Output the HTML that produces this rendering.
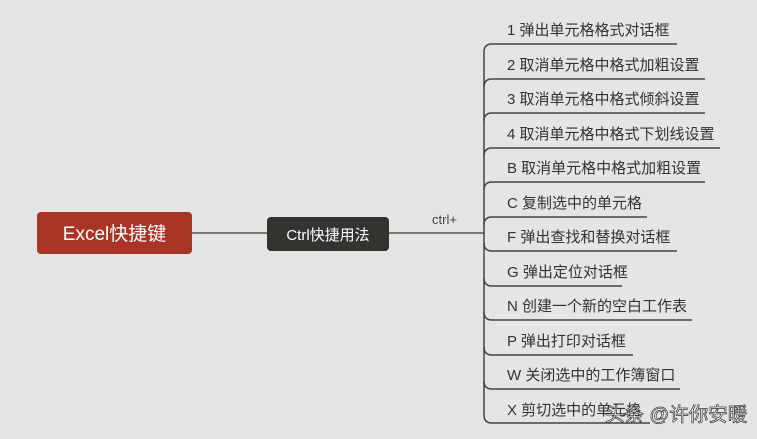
<!DOCTYPE html>
<html><head><meta charset="utf-8"><style>
html,body{margin:0;padding:0;background:#e5e5e5;}
svg{display:block;font-family:"Liberation Sans","Noto Sans CJK SC",sans-serif;}
</style></head><body>
<svg width="757" height="439" viewBox="0 0 757 439">
<rect width="757" height="439" fill="#e5e5e5"/>
<line x1="192" y1="233" x2="267" y2="233" stroke="#555" stroke-width="1.5"/>
<line x1="389" y1="233" x2="484" y2="233" stroke="#555" stroke-width="1.5"/>
<rect x="37" y="212" width="155" height="42" rx="4" fill="#a83426"/>
<text x="114.5" y="240" fill="#fff" font-size="19" text-anchor="middle">Excel快捷键</text>
<rect x="267" y="217" width="122" height="34" rx="4" fill="#33332f"/>
<text x="328" y="240" fill="#fff" font-size="15" text-anchor="middle">Ctrl快捷用法</text>
<text x="432" y="224" fill="#444" font-size="13">ctrl+</text>
<g fill="none" stroke="#444" stroke-width="1.5">
<path d="M484 52 V415"/>
<path d="M484 52 Q484 44 492 44 H677"/>
<path d="M484 87 Q484 79 492 79 H705"/>
<path d="M484 121 Q484 113 492 113 H705"/>
<path d="M484 156 Q484 148 492 148 H720"/>
<path d="M484 190 Q484 182 492 182 H705"/>
<path d="M484 225 Q484 217 492 217 H647"/>
<path d="M484 243 Q484 251 492 251 H677"/>
<path d="M484 278 Q484 286 492 286 H622"/>
<path d="M484 312 Q484 320 492 320 H692"/>
<path d="M484 347 Q484 355 492 355 H633"/>
<path d="M484 381 Q484 389 492 389 H680"/>
<path d="M484 415 Q484 423 492 423 H650"/>
</g>
<g fill="#333" font-size="15">
<text x="507" y="35">1  弹出单元格格式对话框</text>
<text x="507" y="70">2  取消单元格中格式加粗设置</text>
<text x="507" y="104">3  取消单元格中格式倾斜设置</text>
<text x="507" y="139">4  取消单元格中格式下划线设置</text>
<text x="507" y="173">B  取消单元格中格式加粗设置</text>
<text x="507" y="208">C  复制选中的单元格</text>
<text x="507" y="242">F  弹出查找和替换对话框</text>
<text x="507" y="277">G  弹出定位对话框</text>
<text x="507" y="311">N  创建一个新的空白工作表</text>
<text x="507" y="346">P  弹出打印对话框</text>
<text x="507" y="380">W  关闭选中的工作簿窗口</text>
<text x="507" y="415">X  剪切选中的单元格</text>
</g>
<text x="605" y="421" fill="#fff" stroke="#333" stroke-width="0.7" font-size="19.5">头条 @许你安暖</text>
</svg>
</body></html>
